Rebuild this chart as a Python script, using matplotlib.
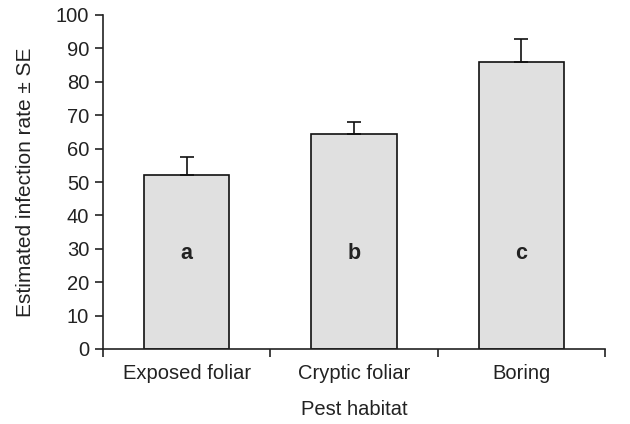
import matplotlib
matplotlib.use("Agg")
import matplotlib.pyplot as plt
import numpy as np

categories = ["Exposed foliar", "Cryptic foliar", "Boring"]
means = [52.2, 64.4, 86.0]
se_upper = [5.3, 3.5, 6.8]
letters = ["a", "b", "c"]
yticks = list(range(0, 101, 10))

plt.rcParams['font.family'] = ['Liberation Sans', 'DejaVu Sans']

fig = plt.figure(figsize=(6.3, 4.24), dpi=100)
ax = fig.add_axes([103/630, 1-349/424, (605-103)/630, (349-15)/424])

x = np.arange(len(categories))
ax.bar(x, means, width=0.51, color="#e0e0e0", edgecolor="#111111", linewidth=1.2, zorder=2)
ax.errorbar(x, means, yerr=[np.zeros(len(means)), se_upper], fmt="none",
            ecolor="#111111", elinewidth=1.2, capsize=5, capthick=1.2, zorder=3)

for xi, lt in zip(x, letters):
    ax.text(xi, 28.7, lt, ha="center", va="center", fontsize=15.5, fontweight="bold", color="#222222")

ax.set_xlim(-0.5, 2.5)
ax.set_ylim(0, 100)
ax.set_yticks(yticks)
ax.set_xticks([-0.5, 0.5, 1.5, 2.5])
ax.set_xticklabels([])
ax.set_xticks(x, minor=True)
ax.set_xticklabels(categories, minor=True)
ax.tick_params(axis="x", which="minor", length=0, pad=11, labelsize=14.5, colors="#222222")
ax.tick_params(axis="x", which="major", length=6, width=1.2, color="#222222")
ax.tick_params(axis="y", length=6, width=1.2, labelsize=14.5, colors="#222222", pad=4)

for s in ["top", "right"]:
    ax.spines[s].set_visible(False)
for s in ["left", "bottom"]:
    ax.spines[s].set_linewidth(1.2)
    ax.spines[s].set_color("#222222")

ax.set_ylabel("Estimated infection rate \u00b1 SE", fontsize=15, color="#222222", labelpad=15)
ax.set_xlabel("Pest habitat", fontsize=14.5, color="#222222", labelpad=12)

fig.savefig("out.png", dpi=100)
